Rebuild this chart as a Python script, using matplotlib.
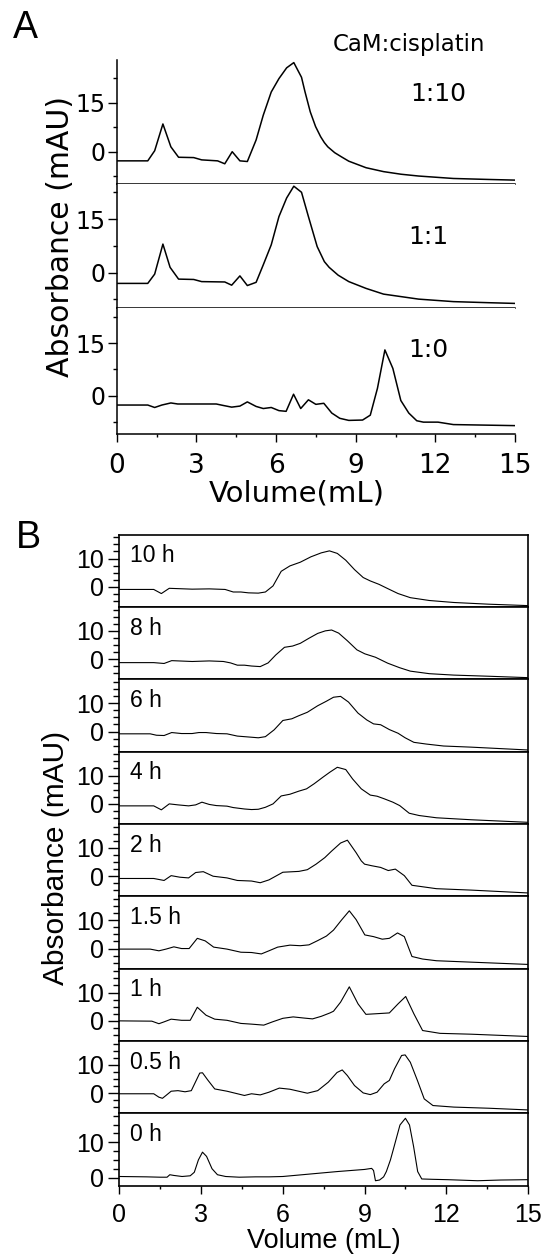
import matplotlib
matplotlib.use("Agg")
import matplotlib.pyplot as plt
from matplotlib.ticker import MultipleLocator

plt.rcParams['font.family'] = ['Liberation Sans', 'DejaVu Sans']

# ---------------- panel A data (CaM:cisplatin ratios) ----------------
a_labels = ["1:10", "1:1", "1:0"]

vol_a_110 = [0, 1.17, 1.43, 1.74, 2.04, 2.33, 2.9, 3.2, 3.8, 4.07, 4.35, 4.64, 4.92, 5.25,
             5.52, 5.82, 6.11, 6.4, 6.67, 6.96, 7.09, 7.29, 7.49, 7.68, 7.82, 7.95, 8.21,
             8.47, 8.74, 9.39, 10.05, 10.71, 11.37, 12.68, 14.0, 15]
abs_a_110 = [-2.8, -2.8, 0.3, 8.5, 1.5, -1.7, -1.8, -2.5, -2.8, -3.7, 0.0, -2.8, -3.0, 3.6,
             11.2, 18.3, 22.4, 25.7, 27.3, 22.8, 18.4, 12.2, 7.7, 4.6, 2.8, 1.5, -0.3,
             -1.6, -2.9, -4.9, -6.1, -6.9, -7.45, -8.2, -8.5, -8.7]

vol_a_11 = [0, 1.17, 1.43, 1.74, 2.01, 2.33, 2.9, 3.2, 4.07, 4.33, 4.64, 4.92, 5.25, 5.52,
            5.82, 6.11, 6.4, 6.67, 6.96, 7.22, 7.55, 7.82, 8.0, 8.34, 8.74, 9.39, 10.05,
            11.37, 12.68, 14.0, 15]
abs_a_11 = [-3.0, -3.0, -0.4, 8.0, 1.5, -1.8, -1.9, -2.5, -2.6, -3.5, -0.9, -3.6, -2.7, 2.2,
            7.8, 15.7, 20.9, 24.2, 22.5, 15.7, 7.3, 3.1, 1.5, -0.7, -2.5, -4.4, -6.0,
            -7.4, -8.1, -8.4, -8.6]

vol_a_10 = [0, 1.17, 1.43, 1.7, 2.04, 2.3, 3.75, 4.0, 4.33, 4.64, 4.92, 5.25, 5.52, 5.82,
            6.11, 6.38, 6.66, 6.93, 7.22, 7.5, 7.8, 8.1, 8.4, 8.74, 9.26, 9.55, 9.82, 10.1,
            10.4, 10.7, 11.0, 11.3, 11.55, 12.1, 12.68, 15]
abs_a_10 = [-2.7, -2.7, -3.4, -2.7, -2.1, -2.4, -2.4, -2.8, -3.3, -3.0, -1.8, -3.1, -3.7, -3.4,
            -4.3, -4.5, 0.4, -3.7, -1.2, -2.5, -2.2, -5.0, -6.5, -7.1, -7.0, -5.6, 2.1, 13.1,
            7.8, -1.4, -5.0, -7.2, -7.6, -7.6, -8.3, -8.6]

# ---------------- panel B data (incubation time) ----------------
b_labels = ["10 h", "8 h", "6 h", "4 h", "2 h", "1.5 h", "1 h", "0.5 h", "0 h"]

vol_b_10h = [0, 1.26, 1.54, 1.83, 2.67, 3.3, 3.88, 4.18, 4.46, 4.74, 5.1, 5.36, 5.64, 5.94,
             6.26, 6.64, 7.03, 7.41, 7.71, 8.0, 8.31, 8.63, 8.95, 9.21, 9.53, 9.85, 10.23,
             10.68, 11.38, 12.28, 13.56, 15]
abs_b_10h = [-0.9, -0.9, -2.35, -0.5, -0.8, -0.7, -0.9, -1.8, -1.8, -2.1, -2.2, -1.8, 0.35, 5.5,
             7.4, 8.7, 10.6, 12.0, 12.7, 11.8, 9.4, 6.1, 3.3, 2.1, 0.9, -0.6, -2.35,
             -3.8, -4.8, -5.5, -6.1, -6.6]

vol_b_8h = [0, 1.26, 1.64, 1.92, 2.67, 3.3, 3.82, 4.08, 4.33, 4.59, 4.85, 5.17, 5.46, 5.74,
            6.06, 6.36, 6.64, 6.96, 7.28, 7.56, 7.79, 8.05, 8.37, 8.72, 9.01, 9.4, 9.85,
            10.29, 10.68, 11.38, 12.28, 13.56, 15]
abs_b_8h = [-1.2, -1.2, -1.5, -0.5, -0.8, -0.6, -0.8, -1.3, -2.1, -2.1, -2.4, -2.6, -1.3, 1.5,
            4.2, 4.65, 5.6, 7.4, 9.1, 10.0, 10.3, 9.2, 6.5, 3.3, 1.9, 0.7, -1.4,
            -3.0, -4.2, -5.1, -5.6, -6.0, -6.5]

vol_b_6h = [0, 1.13, 1.36, 1.64, 1.92, 2.28, 2.67, 2.92, 3.18, 3.56, 3.95, 4.33, 4.72, 5.1,
            5.36, 5.68, 6.0, 6.33, 6.59, 6.9, 7.28, 7.6, 7.86, 8.12, 8.41, 8.76, 9.08, 9.33,
            9.59, 9.91, 10.23, 10.49, 10.81, 11.26, 11.9, 12.92, 15]
abs_b_6h = [-0.8, -0.8, -1.3, -1.4, -0.35, -0.7, -0.7, -0.35, -0.35, -0.7, -0.8, -1.6, -1.9, -2.2,
            -1.8, 0.6, 3.9, 4.5, 5.6, 6.8, 9.1, 10.7, 12.1, 12.4, 10.4, 6.5, 4.1, 2.7,
            2.4, 0.7, -0.6, -2.2, -3.8, -4.4, -5.1, -5.5, -6.5]

vol_b_4h = [0, 1.26, 1.54, 1.83, 2.15, 2.54, 2.8, 3.03, 3.3, 3.56, 3.95, 4.18, 4.59, 4.85,
            5.1, 5.36, 5.64, 5.94, 6.26, 6.59, 6.87, 7.15, 7.47, 7.73, 8.0, 8.31, 8.56, 8.88,
            9.21, 9.46, 9.72, 10.04, 10.29, 10.64, 11.0, 11.64, 12.92, 15]
abs_b_4h = [-0.7, -0.7, -2.1, 0.0, -0.35, -0.7, -0.35, 0.6, -0.2, -0.6, -0.8, -1.3, -1.8, -2.0,
            -1.9, -1.2, 0.0, 2.8, 3.4, 4.5, 5.3, 7.1, 9.4, 11.2, 12.9, 12.1, 8.8, 5.3,
            3.1, 2.7, 1.8, 0.6, -0.6, -3.3, -4.1, -4.9, -5.6, -6.5]

vol_b_2h = [0, 1.26, 1.64, 1.9, 2.22, 2.54, 2.8, 3.08, 3.44, 3.95, 4.33, 4.85, 5.17, 5.49,
            6.0, 6.59, 6.9, 7.22, 7.54, 7.79, 8.12, 8.37, 8.69, 8.88, 9.0, 9.26, 9.59, 9.87,
            10.13, 10.46, 10.74, 11.64, 12.92, 15]
abs_b_2h = [-0.8, -0.8, -1.5, 0.2, -0.35, -0.6, 1.3, 1.6, 0.0, -0.6, -1.5, -1.7, -2.3, -1.3,
            1.4, 1.7, 2.3, 4.25, 6.55, 8.85, 11.7, 12.7, 8.3, 5.4, 4.25, 3.7, 3.1, 2.0,
            2.5, 0.2, -3.2, -4.4, -4.9, -5.9]

vol_b_15h = [0, 1.13, 1.45, 1.71, 2.0, 2.28, 2.56, 2.86, 3.15, 3.46, 3.95, 4.46, 4.85, 5.21,
             5.49, 5.81, 6.26, 6.64, 6.96, 7.28, 7.6, 7.86, 8.15, 8.44, 8.69, 9.01, 9.33,
             9.65, 9.91, 10.21, 10.46, 10.74, 11.13, 11.64, 12.92, 15]
abs_b_15h = [-0.2, -0.2, -0.8, -0.2, 0.6, 0.0, 0.0, 3.6, 2.7, 0.5, -0.2, -1.3, -1.4, -1.9,
             -0.8, 0.5, 1.2, 1.0, 1.3, 2.8, 4.4, 6.5, 10.0, 13.3, 10.2, 4.8, 4.2,
             3.3, 3.6, 5.5, 4.2, -2.8, -3.7, -4.3, -4.8, -5.6]

vol_b_1h = [0, 1.19, 1.45, 1.64, 1.9, 2.28, 2.6, 2.86, 3.18, 3.5, 3.95, 4.46, 4.85, 5.3,
            5.62, 6.0, 6.38, 6.77, 7.09, 7.41, 7.73, 7.86, 8.12, 8.44, 8.76, 9.05, 9.4, 9.91,
            10.23, 10.51, 10.81, 11.13, 11.77, 12.92, 15]
abs_b_1h = [0.0, -0.1, -1.0, -0.35, 0.6, 0.2, 0.2, 4.8, 2.0, 0.6, 0.2, -0.9, -1.15, -1.5,
            -0.35, 0.9, 1.4, 1.0, 0.7, 1.6, 2.8, 3.4, 6.6, 12.0, 6.0, 2.3, 2.5, 2.8,
            6.0, 8.6, 2.5, -3.4, -4.4, -4.7, -5.5]

vol_b_05h = [0, 1.26, 1.45, 1.58, 1.71, 1.9, 2.15, 2.41, 2.64, 2.79, 2.95, 3.05, 3.24, 3.5,
             3.95, 4.59, 4.85, 5.17, 5.49, 5.87, 6.26, 6.9, 7.28, 7.67, 7.99, 8.18, 8.37,
             8.63, 8.95, 9.21, 9.46, 9.72, 9.91, 10.1, 10.36, 10.49, 10.68, 10.94, 11.19,
             11.51, 12.28, 13.56, 15]
abs_b_05h = [-0.2, -0.2, -1.4, -1.8, -0.8, 0.7, 0.9, 0.5, 0.9, 3.9, 7.1, 7.2, 4.7, 1.5,
             0.7, -0.8, -0.2, -0.6, 0.35, 1.8, 1.4, 0.0, 0.9, 3.9, 7.3, 8.2, 6.2,
             2.7, 0.1, -0.5, 0.35, 3.3, 4.5, 8.6, 13.3, 13.5, 10.9, 4.5, -2.0,
             -4.35, -4.9, -5.3, -5.9]

vol_b_0h = [0, 0.5, 1.0, 1.5, 1.75, 1.85, 2.0, 2.3, 2.6, 2.75, 2.9, 3.05, 3.2, 3.4, 3.6,
            3.9, 4.4, 5.0, 5.5, 6.0, 7.0, 8.0, 9.0, 9.26, 9.33, 9.4, 9.55, 9.7, 9.8, 9.95,
            10.05, 10.3, 10.5, 10.65, 10.8, 10.95, 11.1, 11.5, 12.05, 13.15, 14.0, 15]
abs_b_0h = [0.3, 0.25, 0.2, 0.1, 0.1, 0.8, 0.6, 0.3, 0.5, 1.5, 5.0, 7.2, 6.0, 2.5, 0.8,
            0.3, 0.1, 0.2, 0.2, 0.3, 1.0, 1.7, 2.3, 2.6, 2.0, -0.9, -0.7, 0.2, 1.7, 5.0,
            7.8, 14.9, 16.8, 14.9, 8.8, 1.7, -0.4, -0.5, -0.6, -0.9, -0.7, -0.6]

a_vols = [vol_a_110, vol_a_11, vol_a_10]
a_abs = [abs_a_110, abs_a_11, abs_a_10]
b_vols = [vol_b_10h, vol_b_8h, vol_b_6h, vol_b_4h, vol_b_2h, vol_b_15h, vol_b_1h, vol_b_05h, vol_b_0h]
b_abs = [abs_b_10h, abs_b_8h, abs_b_6h, abs_b_4h, abs_b_2h, abs_b_15h, abs_b_1h, abs_b_05h, abs_b_0h]

# ---------------- layout (pixels of the 547x1254 figure) ----------------
W, H = 547, 1254
fig = plt.figure(figsize=(W / 100, H / 100), dpi=100)


def add_ax(left, top, right, bottom):
    return fig.add_axes([left / W, 1 - bottom / H, (right - left) / W, (bottom - top) / H])


A_FONT = 'DejaVu Sans'

# panel A
a_edges = [(60, 183.7), (183.7, 307.7), (307.7, 434)]
a_ylims = [(-9.8, 28.1), (-9.8, 24.9), (-11.0, 25.2)]
a_label_pos = [(12.1, 17.6), (11.75, 10.1), (11.75, 13.1)]
for i in range(3):
    ax = add_ax(116.7, a_edges[i][0], 515, a_edges[i][1])
    ax.plot(a_vols[i], a_abs[i], color='black', lw=1.1)
    ax.set_xlim(0, 15)
    ax.set_ylim(*a_ylims[i])
    ax.spines['top'].set_visible(False)
    ax.spines['right'].set_visible(False)
    for s in ax.spines.values():
        s.set_linewidth(1.1)
    ax.yaxis.set_major_locator(MultipleLocator(15))
    ax.yaxis.set_minor_locator(MultipleLocator(7.5))
    ax.xaxis.set_major_locator(MultipleLocator(3))
    ax.xaxis.set_minor_locator(MultipleLocator(1.5))
    ax.tick_params(axis='y', which='major', direction='out', length=6.3, width=1.0, pad=1.5,
                   labelsize=17)
    ax.tick_params(axis='y', which='minor', direction='out', length=2.7, width=1.0)
    for t in ax.get_yticklabels():
        t.set_family(A_FONT)
    if i < 2:
        ax.tick_params(axis='x', which='both', bottom=False, labelbottom=False)
    else:
        ax.tick_params(axis='x', which='major', direction='out', length=5.5, width=1.0, pad=8,
                       labelsize=19)
        ax.tick_params(axis='x', which='minor', direction='out', length=2.4, width=1.0)
        for t in ax.get_xticklabels():
            t.set_family(A_FONT)
    ax.text(a_label_pos[i][0], a_label_pos[i][1], a_labels[i], ha='center', va='center',
            fontsize=18, family=A_FONT)

fig.text(408.5 / W, 1 - 45 / H, "CaM:cisplatin", ha='center', va='center', fontsize=16.5,
         family=A_FONT)
fig.text(61 / W, 1 - 236.7 / H, "Absorbance (mAU)", rotation=90, ha='center', va='center',
         fontsize=21.5, family=A_FONT)
fig.text(297 / W, 1 - 493 / H, "Volume(mL)", ha='center', va='center', fontsize=21,
         family=A_FONT)
fig.text(25 / W, 1 - 28.5 / H, "A", ha='center', va='center', fontsize=27)

# panel B
b_top, b_h = 534.7, 72.33
for i in range(9):
    top = b_top + i * b_h
    ax = add_ax(119.4, top, 528, top + b_h)
    ax.plot(b_vols[i], b_abs[i], color='black', lw=0.8)
    ax.set_xlim(0, 15)
    ax.set_ylim((-2.3, 18.2) if i == 8 else (-7.1, 18.4))
    for s in ax.spines.values():
        s.set_linewidth(1.2)
    ax.yaxis.set_major_locator(MultipleLocator(10))
    ax.yaxis.set_minor_locator(MultipleLocator(2.5))
    ax.xaxis.set_major_locator(MultipleLocator(3))
    ax.xaxis.set_minor_locator(MultipleLocator(1.5))
    ax.tick_params(axis='y', which='major', direction='out', length=8, width=1.0, pad=3,
                   labelsize=18)
    ax.tick_params(axis='y', which='minor', direction='out', length=4, width=1.0)
    if i < 8:
        ax.tick_params(axis='x', which='both', bottom=False, labelbottom=False)
    else:
        ax.tick_params(axis='x', which='major', direction='out', length=5.8, width=1.0, pad=6.5,
                       labelsize=18)
        ax.tick_params(axis='x', which='minor', direction='out', length=2.4, width=1.0)
    ax.text(0.027, 1 - 27.5 / b_h, b_labels[i], transform=ax.transAxes, ha='left',
            va='baseline', fontsize=16.5)

fig.text(56 / W, 1 - 858 / H, "Absorbance (mAU)", rotation=90, ha='center', va='center',
         fontsize=21.5)
fig.text(324 / W, 1 - 1241 / H, "Volume (mL)", ha='center', va='center', fontsize=19.5)
fig.text(28 / W, 1 - 538.5 / H, "B", ha='center', va='center', fontsize=27)

fig.savefig("out.png", dpi=100)
